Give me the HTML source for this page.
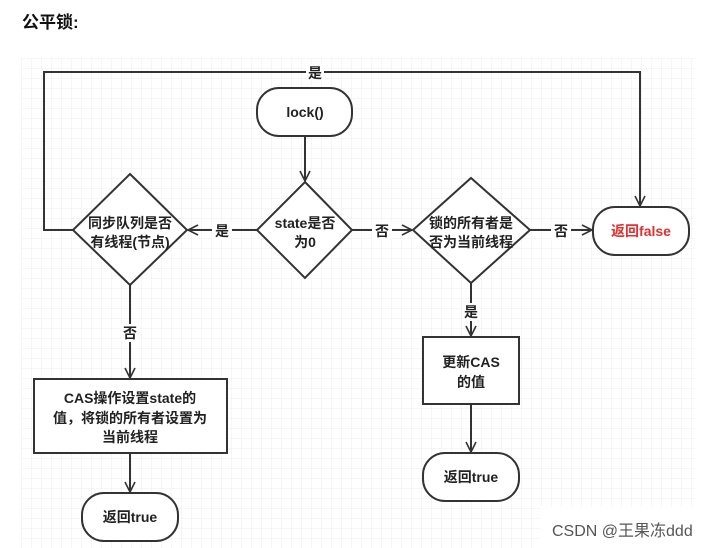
<!DOCTYPE html>
<html><head><meta charset="utf-8"><style>
html,body{margin:0;padding:0;background:#fff;}
body{width:713px;height:548px;overflow:hidden;position:relative;font-family:"Liberation Sans","Noto Sans CJK SC",sans-serif;}
</style></head><body>
<svg width="713" height="548" viewBox="0 0 713 548" xmlns="http://www.w3.org/2000/svg" style="position:absolute;left:0;top:0">
<defs>
<pattern id="g" width="10" height="10" patternUnits="userSpaceOnUse" x="21" y="58">
<path d="M10 0H0V10" fill="none" stroke="#ececec" stroke-width="1"/>
</pattern>
<marker id="a" viewBox="0 0 12 12" refX="11" refY="6" markerWidth="12" markerHeight="12" markerUnits="userSpaceOnUse" orient="auto">
<path d="M1 1L11 6L1 11" fill="none" stroke="#333" stroke-width="1.6"/>
</marker>
</defs>
<text x="22" y="28" font-size="17" font-weight="bold" fill="#111" font-family="Liberation Sans,Noto Sans CJK SC,sans-serif">公平锁:</text>
<rect x="21" y="58" width="674" height="490" fill="url(#g)"/>
<g stroke="#333" stroke-width="2" fill="#fff">
<!-- loop -->
<polyline points="73,230 44,230 44,72 640,72 640,206" fill="none" marker-end="url(#a)"/>
<!-- lock -->
<rect x="257" y="88" width="95" height="48" rx="22"/>
<line x1="305" y1="136" x2="305" y2="181" marker-end="url(#a)"/>
<!-- state diamond -->
<polygon points="305,182 352,230 305,278 257,230"/>
<line x1="257" y1="230" x2="188" y2="230" marker-end="url(#a)"/>
<line x1="352" y1="230" x2="412" y2="230" marker-end="url(#a)"/>
<!-- left diamond -->
<polygon points="130,174 187,230 130,285 73,230"/>
<line x1="130" y1="285" x2="130" y2="378" marker-end="url(#a)"/>
<rect x="34" y="379" width="193" height="74"/>
<line x1="130" y1="453" x2="130" y2="492" marker-end="url(#a)"/>
<rect x="82" y="493" width="96" height="48" rx="22"/>
<!-- right diamond -->
<polygon points="471,178 530,230 471,283 413,230"/>
<line x1="530" y1="230" x2="592" y2="230" marker-end="url(#a)"/>
<rect x="593" y="207" width="96" height="48" rx="22"/>
<line x1="471" y1="283" x2="471" y2="336" marker-end="url(#a)"/>
<rect x="423" y="337" width="96" height="67"/>
<line x1="471" y1="404" x2="471" y2="452" marker-end="url(#a)"/>
<rect x="423" y="453" width="96" height="48" rx="22"/>
</g>
<g font-size="14" font-weight="bold" fill="#222" text-anchor="middle" font-family="Liberation Sans,Noto Sans CJK SC,sans-serif">
<rect x="306" y="64" width="18" height="16" fill="#fff"/>
<text x="315" y="78">是</text>
<text x="305" y="117">lock()</text>
<text x="305" y="228">state是否</text>
<text x="305" y="247">为0</text>
<text x="130" y="228">同步队列是否</text>
<text x="130" y="247">有线程(节点)</text>
<text x="471" y="228">锁的所有者是</text>
<text x="471" y="247">否为当前线程</text>
<rect x="212" y="222" width="20" height="17" fill="#fff"/>
<text x="222" y="236">是</text>
<rect x="372" y="222" width="20" height="17" fill="#fff"/>
<text x="382" y="236">否</text>
<rect x="551" y="222" width="20" height="17" fill="#fff"/>
<text x="561" y="236">否</text>
<text x="641" y="236" fill="#e03030">返回false</text>
<rect x="121" y="324" width="18" height="18" fill="#fff"/>
<text x="130" y="338">否</text>
<rect x="462" y="303" width="18" height="18" fill="#fff"/>
<text x="471" y="317">是</text>
<text x="130" y="403">CAS操作设置state的</text>
<text x="130" y="423">值，将锁的所有者设置为</text>
<text x="130" y="442">当前线程</text>
<text x="130" y="522">返回true</text>
<text x="471" y="367">更新CAS</text>
<text x="471" y="387">的值</text>
<text x="471" y="482">返回true</text>
</g>
<rect x="540" y="506" width="160" height="42" fill="#fff" opacity="0.85"/>
<text x="552" y="536" font-size="16" fill="#555" font-family="Liberation Sans,Noto Sans CJK SC,sans-serif">CSDN @王果冻ddd</text>
</svg>
</body></html>
